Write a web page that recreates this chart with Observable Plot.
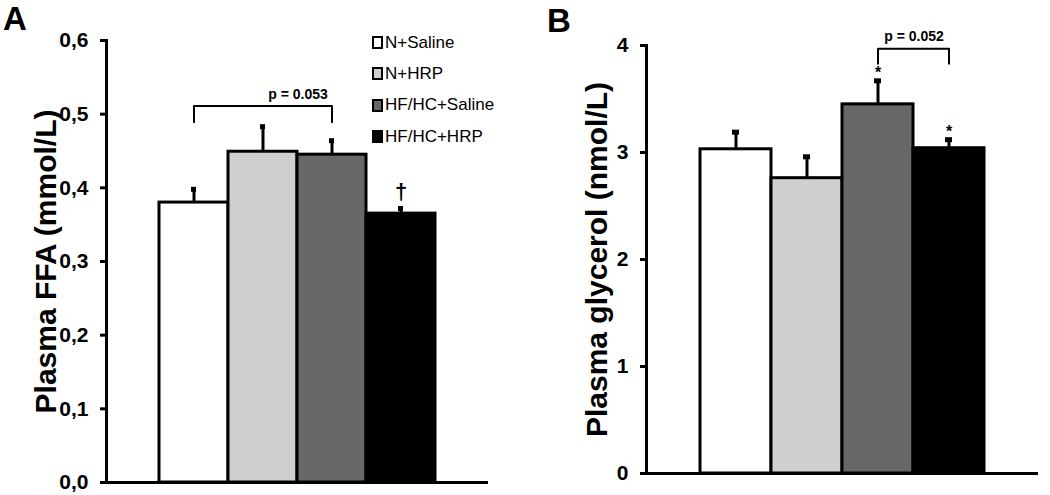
<!DOCTYPE html>
<html>
<head>
<meta charset="utf-8">
<script src="https://cdn.jsdelivr.net/npm/d3@7"></script>
<script src="https://cdn.jsdelivr.net/npm/@observablehq/plot@0.6"></script>
<style>
  html, body { margin: 0; padding: 0; background: #fff; }
  #wrap { position: relative; width: 1050px; height: 495px; overflow: hidden; font-family: "Liberation Sans", Arial, sans-serif; }
  .panel { position: absolute; top: 0; }
  .letter { position: absolute; font-weight: bold; font-size: 33px; line-height: 1; }
  .legend { position: absolute; left: 372px; top: 27px; font-size: 17px; }
  .legend div { display: flex; align-items: center; height: 31.3px; }
  .legend span.sw { display: inline-block; width: 7px; height: 9px; border: 2px solid #000; margin-right: 2px; box-sizing: content-box; }
</style>
</head>
<body>
<div id="wrap">
  <div id="pA" class="panel" style="left:0"></div>
  <div id="pB" class="panel" style="left:520px"></div>
  <div class="letter" style="left:3px;top:2px">A</div>
  <div class="letter" style="left:547px;top:4px">B</div>
  <div id="legend" class="legend"></div>
</div>
<script>
// ---- data ----
const groups = ["N+Saline", "N+HRP", "HF/HC+Saline", "HF/HC+HRP"];
const fills = ["#ffffff", "#cfcfcf", "#686868", "#000000"];
const ffaMean = [0.380, 0.449, 0.445, 0.365];
const ffaSem = [0.018, 0.034, 0.019, 0.007];
const glyMean = [3.03, 2.76, 3.45, 3.04];
const glySem = [0.16, 0.20, 0.22, 0.08];
const ffaTicks = [0, 0.1, 0.2, 0.3, 0.4, 0.5, 0.6];
const glyTicks = [0, 1, 2, 3, 4];
const ffaTitle = "Plasma FFA (mmol/L)";
const glyTitle = "Plasma glycerol (nmol/L)";

// annotations
const bracketA = [
  {g: "N+Saline", y: 0.489}, {g: "N+Saline", y: 0.511},
  {g: "HF/HC+Saline", y: 0.511}, {g: "HF/HC+Saline", y: 0.489}
];
const labelA = [{y: 0.526, text: "p = 0.053"}];
const markA = [{g: "HF/HC+HRP", y: 0.395, text: "†"}];
const bracketB = [
  {g: "HF/HC+Saline", y: 3.83}, {g: "HF/HC+Saline", y: 3.97},
  {g: "HF/HC+HRP", y: 3.97}, {g: "HF/HC+HRP", y: 3.83}
];
const labelB = [{y: 4.08, text: "p = 0.052"}];
const markB = [{g: "HF/HC+Saline", y: 3.74, text: "*"}, {g: "HF/HC+HRP", y: 3.19, text: "*"}];

const ffa = groups.map((g, i) => ({g, v: ffaMean[i], top: ffaMean[i] + ffaSem[i]}));
const gly = groups.map((g, i) => ({g, v: glyMean[i], top: glyMean[i] + glySem[i]}));

const font = "\"Liberation Sans\", Arial, sans-serif";

function panel({data, width, marginLeft, marginRight, marginTop, marginBottom, domain, ticks, fmt, title, titleDx, extra}) {
  return Plot.plot({
    width, height: 495,
    marginLeft, marginRight, marginTop, marginBottom,
    style: {fontFamily: font, background: "white", color: "black", overflow: "visible"},
    x: {type: "band", domain: groups, paddingInner: 0, paddingOuter: 0.75, axis: null},
    y: {domain, ticks, axis: null},
    color: {domain: groups, range: fills},
    marks: [
      Plot.barY(data, {x: "g", y: "v", fill: "g", stroke: "black", strokeWidth: 3}),
      Plot.ruleX(data, {x: "g", y1: "v", y2: "top", stroke: "black", strokeWidth: 3}),
      Plot.tickY(data, {x: "g", y: "top", insetLeft: 32, insetRight: 32, stroke: "black", strokeWidth: 5}),
      Plot.frame({anchor: "left", stroke: "black", strokeWidth: 3}),
      Plot.ruleY([domain[0]], {stroke: "black", strokeWidth: 3}),
      Plot.axisY({ticks, tickFormat: fmt, tickSize: 6, tickPadding: 12, strokeWidth: 3, fontSize: 21, fontWeight: "bold", label: null}),
      Plot.text([title], {frameAnchor: "left", textAnchor: "middle", rotate: -90, dx: titleDx, fontSize: 30, fontWeight: "bold", fill: "black"}),
      ...extra
    ]
  });
}

const plotA = panel({
  data: ffa, width: 520, marginLeft: 106, marginRight: 32, marginTop: 40, marginBottom: 13,
  domain: [0, 0.6], ticks: ffaTicks, fmt: d => d.toFixed(1).replace(".", ","),
  title: ffaTitle, titleDx: -60,
  extra: [
    Plot.line(bracketA, {x: "g", y: "y", stroke: "black", strokeWidth: 2}),
    Plot.text(labelA, {x: () => "N+HRP", y: "y", text: "text", dx: 35, fontSize: 14, fontWeight: "bold"}),
    Plot.text(markA, {x: "g", y: "y", text: "text", fontSize: 22, fontWeight: "bold"})
  ]
});

const plotB = panel({
  data: gly, width: 530, marginLeft: 126, marginRight: 12, marginTop: 45, marginBottom: 22,
  domain: [0, 4], ticks: glyTicks, fmt: d => String(d),
  title: glyTitle, titleDx: -49,
  extra: [
    Plot.line(bracketB, {x: "g", y: "y", stroke: "black", strokeWidth: 2}),
    Plot.text(labelB, {x: () => "HF/HC+Saline", y: "y", text: "text", dx: 36, fontSize: 14, fontWeight: "bold"}),
    Plot.text(markB, {x: "g", y: "y", text: "text", fontSize: 16, fontWeight: "bold"})
  ]
});

document.getElementById("pA").appendChild(plotA);
document.getElementById("pB").appendChild(plotB);

// legend
const leg = document.getElementById("legend");
groups.forEach((g, i) => {
  const row = document.createElement("div");
  const sw = document.createElement("span");
  sw.className = "sw";
  sw.style.background = fills[i];
  row.appendChild(sw);
  row.appendChild(document.createTextNode(g));
  leg.appendChild(row);
});
</script>
</body>
</html>
